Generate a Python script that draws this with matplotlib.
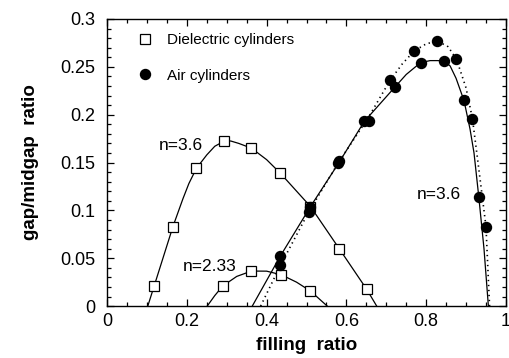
import numpy as np
import matplotlib
matplotlib.use("Agg")
import matplotlib.pyplot as plt
from matplotlib.ticker import MultipleLocator

plt.rcParams['font.family'] = ['Liberation Sans', 'DejaVu Sans']

# dielectric cylinders, n=3.6 (open squares)
diel36_x = [0.118, 0.165, 0.224, 0.292, 0.362, 0.434, 0.510, 0.582, 0.651]
diel36_y = [0.021, 0.083, 0.144, 0.172, 0.165, 0.139, 0.104, 0.060, 0.0175]
diel36_cx = [0.102, 0.118, 0.165, 0.19, 0.205, 0.224, 0.25, 0.27, 0.292, 0.31, 0.33,
             0.362, 0.40, 0.434, 0.51, 0.582, 0.651, 0.676]
diel36_cy = [0.0, 0.021, 0.083, 0.112, 0.128, 0.144, 0.158, 0.167, 0.172, 0.1725, 0.170,
             0.165, 0.153, 0.139, 0.104, 0.060, 0.0175, 0.0]

# dielectric cylinders, n=2.33
diel23_x = [0.290, 0.362, 0.437, 0.510]
diel23_y = [0.021, 0.0366, 0.0327, 0.0157]
diel23_cx = [0.251, 0.27, 0.290, 0.325, 0.362, 0.40, 0.437, 0.475, 0.51, 0.552]
diel23_cy = [0.0, 0.011, 0.021, 0.031, 0.0366, 0.0365, 0.0327, 0.025, 0.0157, 0.0]

# air cylinders (filled circles), solid curve
air_x = [0.434, 0.510, 0.580, 0.645, 0.722, 0.786, 0.845, 0.895, 0.932]
air_y = [0.052, 0.104, 0.149, 0.193, 0.229, 0.254, 0.256, 0.215, 0.114]
air_cx = [0.364, 0.434, 0.51, 0.58, 0.645, 0.722, 0.75, 0.786, 0.81, 0.83, 0.845,
          0.86, 0.875, 0.895, 0.91, 0.92, 0.932, 0.945, 0.956]
air_cy = [0.0, 0.052, 0.104, 0.149, 0.193, 0.229, 0.242, 0.2544, 0.2565, 0.2565, 0.2557,
          0.251, 0.238, 0.2146, 0.185, 0.16, 0.114, 0.06, 0.0]

# air cylinders, dotted curve
air2_x = [0.434, 0.505, 0.582, 0.657, 0.709, 0.770, 0.828, 0.876, 0.916, 0.950]
air2_y = [0.043, 0.098, 0.152, 0.193, 0.236, 0.267, 0.277, 0.258, 0.196, 0.083]
air2_cx = [0.385, 0.434, 0.505, 0.58, 0.655, 0.709, 0.74, 0.77, 0.80, 0.828, 0.855,
           0.876, 0.90, 0.916, 0.93, 0.942, 0.95, 0.959]
air2_cy = [0.0, 0.042, 0.098, 0.15, 0.197, 0.2355, 0.253, 0.2666, 0.274, 0.277, 0.271,
           0.258, 0.228, 0.196, 0.15, 0.11, 0.083, 0.0]

xticks = [0, 0.2, 0.4, 0.6, 0.8, 1]
xlabels = ["0", "0.2", "0.4", "0.6", "0.8", "1"]
yticks = [0, 0.05, 0.1, 0.15, 0.2, 0.25, 0.3]
ylabels = ["0", "0.05", "0.1", "0.15", "0.2", "0.25", "0.3"]

fig = plt.figure(figsize=(5.1, 3.58), dpi=100)
ax = fig.add_axes([0.210, 0.145, 0.782, 0.802])

lw = 0.9
ax.plot(diel36_cx, diel36_cy, color='black', lw=lw)
ax.plot(diel23_cx, diel23_cy, color='black', lw=lw)
ax.plot(air_cx, air_cy, color='black', lw=lw)
ax.plot(air2_cx, air2_cy, color='black', lw=1.2, ls=(0, (0.8, 2.2)))

sq = ax.plot(diel36_x, diel36_y, 's', ms=6.5, mfc='white', mec='black', mew=0.9,
             label="Dielectric cylinders")[0]
ax.plot(diel23_x, diel23_y, 's', ms=6.5, mfc='white', mec='black', mew=0.9)
ci = ax.plot(air_x, air_y, 'o', ms=7.2, color='black', label="Air cylinders")[0]
ax.plot(air2_x, air2_y, 'o', ms=7.2, color='black')

ax.text(0.130, 0.168, "n=3.6", fontsize=12.5, va='center', ha='left')
ax.text(0.19, 0.041, "n=2.33", fontsize=12.5, va='center', ha='left')
ax.text(0.777, 0.117, "n=3.6", fontsize=12.5, va='center', ha='left')

ax.legend(handles=[sq, ci], loc='upper left', bbox_to_anchor=(0.076, 0.95),
          frameon=False, fontsize=11, handlelength=1.0, handletextpad=0.95,
          labelspacing=1.4, borderpad=0, borderaxespad=0, numpoints=1)

ax.set_xlim(0, 1)
ax.set_ylim(0, 0.3)
ax.set_xticks(xticks)
ax.set_xticklabels(xlabels)
ax.set_yticks(yticks)
ax.set_yticklabels(ylabels)
ax.xaxis.set_minor_locator(MultipleLocator(0.05))
ax.yaxis.set_minor_locator(MultipleLocator(0.01))
ax.tick_params(which='both', direction='in', top=True, right=True, width=0.9)
ax.tick_params(which='major', length=5, labelsize=13)
ax.tick_params(axis='x', which='major', pad=5)
ax.tick_params(axis='y', which='major', pad=8.5)
ax.tick_params(which='minor', length=3)
for s in ax.spines.values():
    s.set_linewidth(1.0)

ax.set_xlabel("filling  ratio", fontsize=13.5, fontweight='bold', labelpad=5)
ax.set_ylabel("gap/midgap  ratio", fontsize=13.5, fontweight='bold', labelpad=15)

fig.savefig("out.png", dpi=100)
